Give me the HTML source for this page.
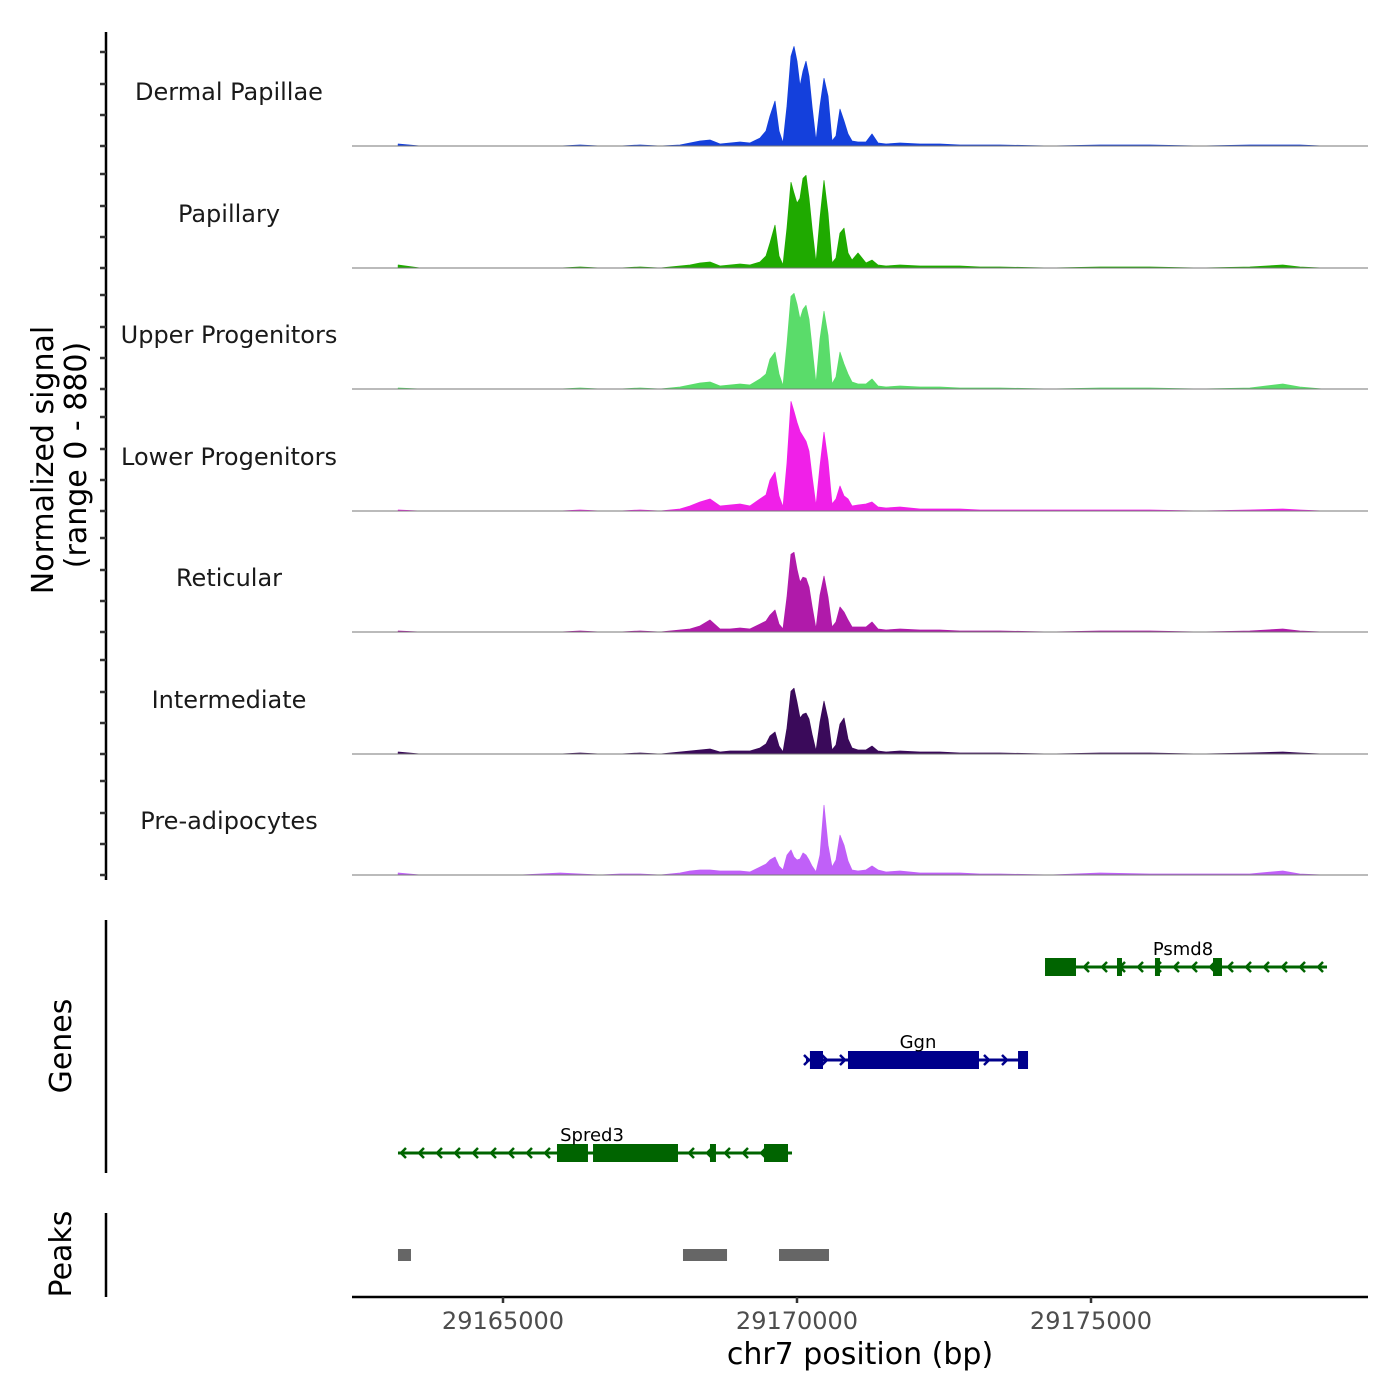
<!DOCTYPE html>
<html><head><meta charset="utf-8">
<style>
html,body{margin:0;padding:0;background:#fff;}
svg{display:block;font-family:"DejaVu Sans","Liberation Sans",sans-serif;}
</style></head>
<body>
<svg id="chart" width="1400" height="1400" viewBox="0 0 1400 1400" xmlns="http://www.w3.org/2000/svg">
<g id="tracks"></g>
<g id="yaxis"></g>
<g id="genes"></g>
<g id="peaks"></g>
<g id="xaxis"></g>
<text transform="translate(53,460) rotate(-90)" text-anchor="middle" font-size="30" fill="#000">Normalized signal</text>
<text transform="translate(86,455) rotate(-90)" text-anchor="middle" font-size="30" fill="#000">(range 0 - 880)</text>
<text transform="translate(71,1046) rotate(-90)" text-anchor="middle" font-size="30" fill="#000">Genes</text>
<text transform="translate(71,1254) rotate(-90)" text-anchor="middle" font-size="30" fill="#000">Peaks</text>
<text x="860" y="1364" text-anchor="middle" font-size="30" fill="#000">chr7 position (bp)</text>
</svg>
<script>
const positions=[29163217,29163591,29163931,29164611,29165291,29165971,29166311,29166651,29166991,29167331,29167671,29168011,29168181,29168351,29168521,29168691,29168861,29169031,29169201,29169371,29169473,29169541,29169626,29169694,29169762,29169830,29169898,29169949,29170000,29170051,29170102,29170153,29170204,29170255,29170323,29170391,29170459,29170527,29170595,29170663,29170731,29170799,29170867,29170935,29171037,29171173,29171275,29171377,29171513,29171751,29172091,29172431,29172771,29173111,29173451,29174301,29175151,29176001,29176851,29177701,29178262,29178551,29178942];
const trackNames=["Dermal Papillae","Papillary","Upper Progenitors","Lower Progenitors","Reticular","Intermediate","Pre-adipocytes"];
const trackColors=["#1440dc","#1faa00","#5adc6a","#f020e8","#b01aaa","#3a0a5a","#c060f8"];
const sigDP=[15,0,0,0,0,0,7,0,0,7,0,7,22,37,44,15,22,29,22,58,110,219,329,110,22,292,657,730,621,438,548,621,511,292,37,292,496,365,37,73,270,183,88,37,29,29,88,22,15,22,15,15,7,7,7,0,7,7,0,7,7,7,0];
const sigPap=[22,0,0,0,0,0,7,0,0,7,0,15,22,37,44,15,22,29,22,44,88,183,314,88,22,292,628,548,475,511,657,679,511,292,37,365,642,402,37,73,256,292,110,58,110,37,58,22,15,22,15,15,15,7,7,0,7,7,0,7,22,7,0];
const sigUP=[7,0,0,0,0,0,7,0,0,7,0,15,29,44,51,22,29,37,29,73,110,219,270,110,22,329,679,701,621,511,584,613,511,307,37,365,570,394,37,88,270,183,110,51,37,37,73,22,15,22,15,15,7,7,7,0,7,7,0,7,37,15,0];
const sigLP=[7,0,0,0,0,0,7,0,0,7,0,15,37,66,88,37,44,51,37,88,117,226,285,110,29,350,803,730,650,584,548,511,438,256,37,329,577,365,51,88,183,110,88,37,44,51,66,29,22,29,15,15,15,7,7,7,7,7,0,7,15,7,0];
const sigRet=[7,0,0,0,0,0,7,0,0,7,0,15,22,44,88,22,22,29,22,58,80,124,161,58,22,256,570,584,460,365,402,394,329,190,22,270,409,256,37,73,183,146,88,37,37,37,73,22,15,22,15,15,7,7,7,0,7,7,0,7,22,7,0];
const sigInt=[15,0,0,0,0,0,7,0,0,7,0,15,22,29,37,15,22,22,22,44,73,131,161,58,15,190,460,482,380,263,292,300,256,146,22,233,387,256,29,66,219,263,110,44,29,29,58,22,15,22,15,15,7,7,7,0,7,7,0,7,15,7,0];
const sigPre=[15,0,0,0,0,15,7,0,7,7,0,15,29,37,37,29,29,29,22,58,80,110,131,66,37,146,183,131,110,117,161,146,110,66,22,146,511,219,58,110,292,219,102,37,29,37,66,37,22,29,15,15,15,7,7,0,15,7,7,7,29,7,0];
const xTicks=[29165000,29170000,29175000];
const geneNames=["Psmd8","Ggn","Spred3"];
const geneStarts=[29174218,29170153,29163214];
const geneEnds=[29179014,29173929,29169915];
const geneStrands=[-1,1,-1];
const geneExons=[[[29174218,29174745],[29175442,29175527],[29176088,29176173],[29177075,29177228]],[[29170220,29170442],[29170867,29173095],[29173759,29173929]],[[29165918,29166445],[29166531,29167976],[29168520,29168622],[29169439,29169847]]];
const peakStarts=[29163214,29168061,29169694];
const peakEnds=[29163435,29168810,29170544];

const NS="http://www.w3.org/2000/svg";
function mk(parent,tag,attrs){const e=document.createElementNS(NS,tag);for(const k in attrs)e.setAttribute(k,attrs[k]);parent.appendChild(e);return e;}
const x=bp=>797+(bp-29170000)*294/5000;
const baselines=[146,268,389,511,632,754,875];
const yv=(v,b)=>b-v/880*120;
const sigs=[sigDP,sigPap,sigUP,sigLP,sigRet,sigInt,sigPre];

const tg=document.getElementById('tracks');
sigs.forEach((s,i)=>{
  const b=baselines[i];
  let d="M"+x(positions[0])+","+b;
  positions.forEach((p,j)=>{d+=" L"+x(p).toFixed(1)+","+yv(s[j],b).toFixed(1);});
  d+=" L"+x(positions[positions.length-1])+","+b+" Z";
  const a=mk(tg,'path',{d:d,fill:trackColors[i],stroke:trackColors[i],'stroke-width':0.8,'stroke-linejoin':'round'});
  
  
  const l=mk(tg,'line',{x1:352,x2:1368,y1:b,y2:b,stroke:'#777','stroke-width':1});
  
  
  const t=mk(tg,'text',{x:229,y:b-46,'text-anchor':'middle','font-size':24,fill:'#1a1a1a'});
  t.textContent=trackNames[i];
  
  
});

const ya=document.getElementById('yaxis');
mk(ya,'line',{x1:106,x2:106,y1:32,y2:880,stroke:'#000','stroke-width':2.5});
baselines.forEach(b=>{
  [0,31,62,94].forEach(o=>{mk(ya,'line',{x1:100,x2:106,y1:b-o,y2:b-o,stroke:'#333','stroke-width':2.5});});
});

const gg=document.getElementById('genes');
mk(gg,'line',{x1:106,x2:106,y1:920,y2:1173,stroke:'#000','stroke-width':2.5});
const geneY=[967,1060,1153];
const geneColors=["#006400","#00008b","#006400"];
const labelX=[1183,918,592];
geneNames.forEach((n,i)=>{
  const y=geneY[i],c=geneColors[i];
  const g=mk(gg,'g',{});
  
  
  const x0=x(geneStarts[i]),x1=x(geneEnds[i]);
  mk(g,'line',{x1:x0,x2:x1,y1:y,y2:y,stroke:c,'stroke-width':3});
  const s=geneStrands[i];
  for(let ax=x0+3;ax<=x1;ax+=18){
    mk(g,'polyline',{points:(ax-5*s)+","+(y-5)+" "+ax+","+y+" "+(ax-5*s)+","+(y+5),fill:'none',stroke:c,'stroke-width':2.5});
  }
  geneExons[i].forEach(e=>{mk(g,'rect',{x:x(e[0]),y:y-9,width:Math.max(5,x(e[1])-x(e[0])),height:18,fill:c});});
  const t=mk(g,'text',{x:labelX[i],y:y-12,'text-anchor':'middle','font-size':18,fill:'#000'});
  t.textContent=n;
});

const pg=document.getElementById('peaks');
mk(pg,'line',{x1:106,x2:106,y1:1213,y2:1297,stroke:'#000','stroke-width':2.5});
peakStarts.forEach((s,i)=>{
  const r=mk(pg,'rect',{x:x(s),y:1249,width:x(peakEnds[i])-x(s),height:12,fill:'#666'});
  
  
});

const xa=document.getElementById('xaxis');
mk(xa,'line',{x1:352,x2:1368,y1:1297,y2:1297,stroke:'#000','stroke-width':2.5});
xTicks.forEach(v=>{
  mk(xa,'line',{x1:x(v),x2:x(v),y1:1297,y2:1303,stroke:'#333','stroke-width':2.5});
  const t=mk(xa,'text',{x:x(v),y:1329,'text-anchor':'middle','font-size':24,fill:'#4d4d4d'});
  t.textContent=v;
  
  
});
</script>
</body></html>
